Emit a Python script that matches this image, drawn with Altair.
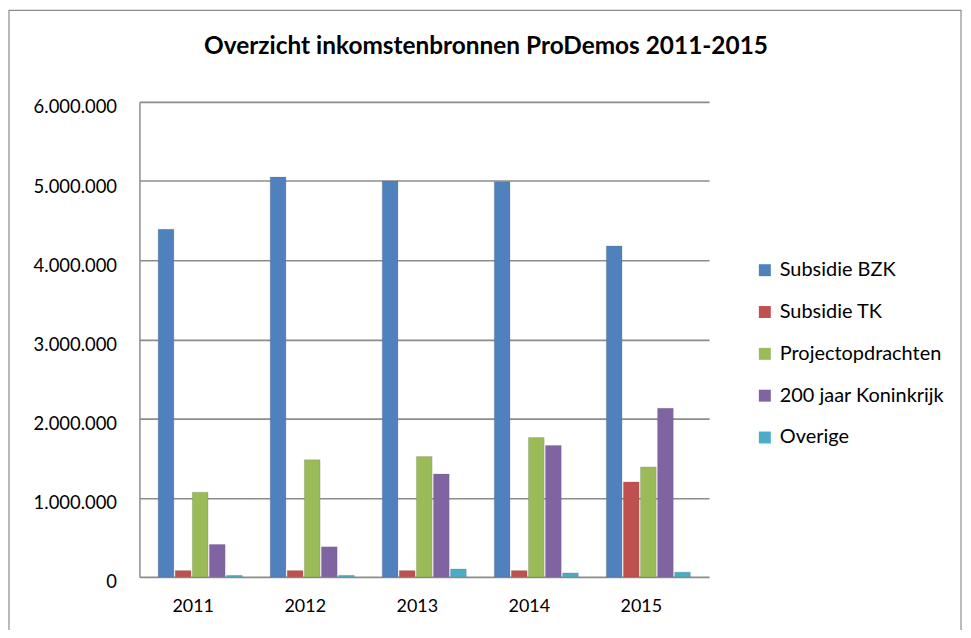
import altair as alt
import pandas as pd

years = ["2011", "2012", "2013", "2014", "2015"]
series = ["Subsidie BZK", "Subsidie TK", "Projectopdrachten", "200 jaar Koninkrijk", "Overige"]
subsidie_bzk = [4390000, 5050000, 5000000, 4990000, 4180000]
subsidie_tk = [80000, 80000, 80000, 80000, 1200000]
projectopdrachten = [1070000, 1480000, 1520000, 1760000, 1390000]
koninkrijk_200 = [410000, 380000, 1300000, 1660000, 2130000]
overige = [20000, 20000, 100000, 50000, 60000]
colors = ["#4F81BD", "#C0504D", "#9BBB59", "#8064A2", "#4BACC6"]
y_ticks = [0, 1000000, 2000000, 3000000, 4000000, 5000000, 6000000]

rows = []
for s, vals in zip(series, [subsidie_bzk, subsidie_tk, projectopdrachten, koninkrijk_200, overige]):
    for y, v in zip(years, vals):
        rows.append({"Jaar": y, "Bron": s, "Waarde": v})
df = pd.DataFrame(rows)

W, H = 572, 477
PL, PT, PR, PB = 132, 93, 255, 52
FONT = "Lato"

bars = alt.Chart(df).mark_bar(stroke="#5a5a5a", strokeWidth=0.4, strokeOpacity=0.5).encode(
    x=alt.X("Jaar:N", sort=years, title=None,
            scale=alt.Scale(paddingInner=0.25, paddingOuter=0.167),
            axis=alt.Axis(labelAngle=0, labelFontSize=18, labelColor="#000000", labelFont=FONT,
                          ticks=False, domain=False, labelPadding=21, labelOffset=-7, grid=False)),
    xOffset=alt.XOffset("Bron:N", sort=series, scale=alt.Scale(paddingInner=0.08)),
    y=alt.Y("Waarde:Q", title=None,
            scale=alt.Scale(domain=[0, 6000000], nice=False),
            axis=alt.Axis(values=y_ticks, labelFontSize=18.5, labelColor="#000000", labelFont=FONT,
                          ticks=False, domain=True, domainColor="#8c8c8c", domainWidth=1.5,
                          labelPadding=23, labelOffset=5, grid=True, gridColor="#8c8c8c", gridWidth=1.6,
                          labelExpr="replace(replace(format(datum.value, ','), ',', '.'), ',', '.')")),
    color=alt.Color("Bron:N", sort=series, scale=alt.Scale(domain=series, range=colors),
                    legend=alt.Legend(title=None, orient="none", legendX=618, legendY=159,
                                      symbolType="square", symbolSize=144, symbolStrokeWidth=0,
                                      labelFontSize=20, labelFont=FONT, labelColor="#000000",
                                      labelLimit=400, rowPadding=22, labelOffset=5, padding=0)),
)

frame = alt.Chart(pd.DataFrame({"k": [0]})).mark_rect(
    fill=None, stroke="#8c8c8c", strokeWidth=1.2, clip=False
).encode(
    x=alt.value(-PL + 1), x2=alt.value(W + PR - 2),
    y=alt.value(-PT + 1), y2=alt.value(H + PB + 20),
)

chart = alt.layer(frame, bars).properties(
    width=W, height=H,
    padding={"left": PL, "top": PT, "right": PR, "bottom": PB},
    autosize=alt.AutoSizeParams(type="none"),
    title=alt.TitleParams("Overzicht inkomstenbronnen ProDemos 2011-2015",
                          fontSize=24.5, font=FONT, fontWeight="bold", color="#000000",
                          anchor="middle", baseline="alphabetic", offset=0, dy=69, dx=62),
).configure(background="#ffffff").configure_view(stroke=None)

chart.save("out.html", embed_options={"renderer": "svg", "actions": False})
